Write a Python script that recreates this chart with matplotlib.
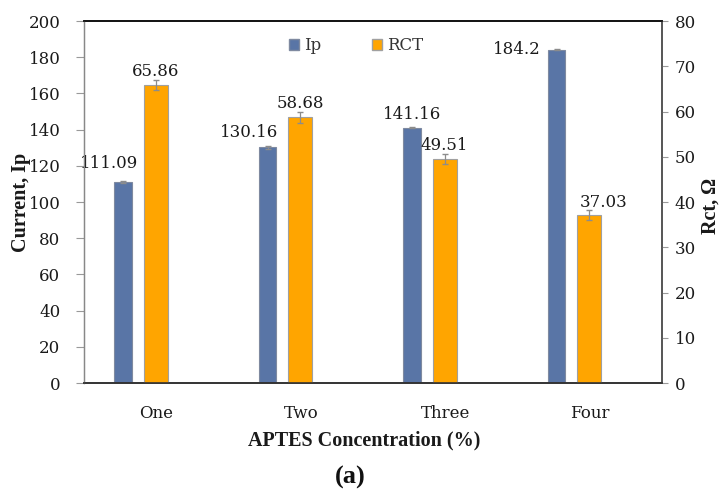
import numpy as np
import matplotlib
matplotlib.use("Agg")
import matplotlib.pyplot as plt
from matplotlib.patches import Patch

# peak current and charge-transfer resistance per APTES concentration
categories = ["One", "Two", "Three", "Four"]
ip_values = [111.09, 130.16, 141.16, 184.2]
ip_errors = [0.6, 0.9, 0.5, 0.4]
rct_values = [65.86, 58.68, 49.51, 37.03]
rct_errors = [1.0, 1.2, 1.1, 1.1]

ip_color = "#5975a6"
rct_color = "#ffa500"
err_color = "#8c8c8c"

plt.rcParams["font.family"] = "DejaVu Serif"

fig = plt.figure(figsize=(7.21, 4.9), dpi=100)
ax = fig.add_axes([84 / 721, 1 - 383 / 490, 578 / 721, 362 / 490])
ax2 = ax.twinx()

x = np.arange(len(categories))
ax.bar(x - 0.23, ip_values, width=0.121, color=ip_color,
       edgecolor="#7f8aa0", linewidth=0.8, zorder=2)
ax.errorbar(x - 0.23, ip_values, yerr=ip_errors, fmt="none",
            ecolor=err_color, elinewidth=0.9, capsize=2.5, zorder=3)
ax2.bar(x - 0.005, rct_values, width=0.166, color=rct_color,
        edgecolor="#a0a0a0", linewidth=0.8, zorder=2)
ax2.errorbar(x - 0.005, rct_values, yerr=rct_errors, fmt="none",
             ecolor=err_color, elinewidth=0.9, capsize=2.5, zorder=3)

# value labels, offsets in pixels from the top of each bar
ip_offsets = [(-14, 18), (-18, 15), (0, 13.5), (-40, 0)]
rct_offsets = [(0, 13), (0, 13.5), (0, 13), (14.5, 13.4)]
for xi, v, off in zip(x, ip_values, ip_offsets):
    ax.annotate(f"{v:g}", (xi - 0.23, v), xytext=off, textcoords="offset pixels",
                ha="center", va="center", fontsize=12, color="#1a1a1a")
for xi, v, off in zip(x, rct_values, rct_offsets):
    ax2.annotate(f"{v:g}", (xi - 0.005, v), xytext=off, textcoords="offset pixels",
                 ha="center", va="center", fontsize=12, color="#1a1a1a")

# axes limits and ticks
ax.set_xlim(-0.5, 3.5)
ax.set_ylim(0, 200)
ax.set_yticks(np.arange(0, 201, 20))
ax2.set_ylim(0, 80)
ax2.set_yticks(np.arange(0, 81, 10))
ax.set_xticks(x)
ax.set_xticklabels(categories)
ax.tick_params(axis="x", length=0, pad=16, labelsize=12, labelcolor="#1a1a1a")
ax.tick_params(axis="y", length=6, width=0.8, color="#999999", pad=11,
               labelsize=12, labelcolor="#1a1a1a")
ax2.tick_params(axis="y", length=4, width=0.8, color="#999999", pad=5,
                labelsize=12, labelcolor="#1a1a1a")

# frame
for a in (ax, ax2):
    a.spines["top"].set_color("#111111")
    a.spines["top"].set_linewidth(1.2)
    a.spines["left"].set_color("#888888")
    a.spines["left"].set_linewidth(0.9)
    a.spines["right"].set_color("#555555")
    a.spines["right"].set_linewidth(1.2)
    a.spines["bottom"].set_color("#333333")
    a.spines["bottom"].set_linewidth(1.2)

# axis titles
fig.text(21 / 721, 1 - 202 / 490, "Current, Ip", rotation=90, ha="center", va="center",
         fontsize=14.5, fontweight="bold", family="Liberation Serif", color="#1a1a1a")
fig.text(711 / 721, 1 - 206 / 490, "Rct, Ω", rotation=90, ha="center", va="center",
         fontsize=14.5, fontweight="bold", family="Liberation Serif", color="#1a1a1a")
fig.text(364 / 721, 1 - 440 / 490, "APTES Concentration (%)", ha="center", va="center",
         fontsize=14.5, fontweight="bold", family="Liberation Serif", color="#1a1a1a")
fig.text(350 / 721, 1 - 477 / 490, "(a)", ha="center", va="center",
         fontsize=19, fontweight="bold", family="Liberation Serif", color="#111111")

# legend
handles = [Patch(facecolor=ip_color, edgecolor="#7f8aa0", label="Ip"),
           Patch(facecolor=rct_color, edgecolor="#a0a0a0", label="RCT")]
fig.legend(handles=handles, loc="center", bbox_to_anchor=(356 / 721, 1 - 46 / 490),
           ncol=2, frameon=False, fontsize=12, handlelength=0.6, handleheight=0.6,
           handletextpad=0.3, columnspacing=3.0, labelcolor="#333333")

fig.savefig("out.png", dpi=100)
